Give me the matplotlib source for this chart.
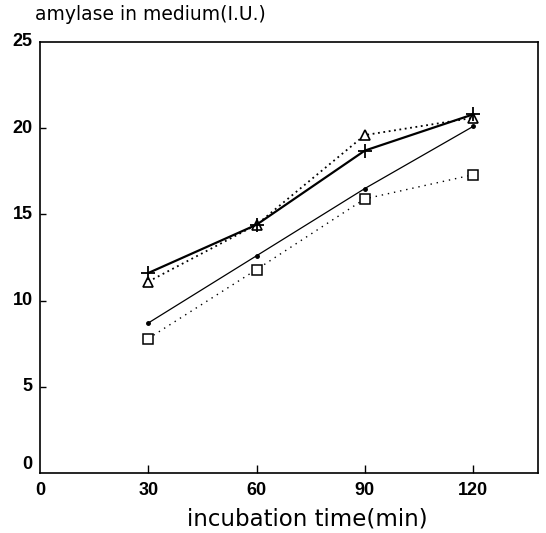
import matplotlib
matplotlib.use('Agg')
import matplotlib.pyplot as plt

# incubation times (min)
times = [30, 60, 90, 120]

# amylase in medium (I.U.) for each series
plus_vals = [11.6, 14.4, 18.7, 20.8]
tri_vals = [11.1, 14.4, 19.6, 20.6]
dot_vals = [8.7, 12.6, 16.5, 20.1]
sq_vals = [7.8, 11.8, 15.9, 17.3]

xticks = [0, 30, 60, 90, 120]
yticks = [0, 5, 10, 15, 20, 25]

plt.rcParams['font.family'] = ['Liberation Sans', 'DejaVu Sans']

fig = plt.figure(figsize=(5.46, 5.33), dpi=100)
ax = fig.add_axes([40 / 546, 1 - 473 / 533, 498 / 546, 431 / 533])

# lines
ax.plot(times, plus_vals, color='black', lw=1.6, ls='-', marker='+',
        ms=10, mew=1.3, zorder=4)
ax.plot(times, tri_vals, color='black', lw=1.3, ls=(0, (1, 2)), marker='^',
        ms=7.5, mfc='white', mec='black', mew=1.2, zorder=3)
ax.plot(times, dot_vals, color='black', lw=0.9, ls='-', marker='o',
        ms=2.5, zorder=3)
ax.plot(times, sq_vals, color='black', lw=1.0, ls=(0, (1, 3.5)), marker='s',
        ms=7, mfc='white', mec='black', mew=1.1, zorder=3)

ax.set_xlim(0, 138)
ax.set_ylim(0, 25)

for s in ax.spines.values():
    s.set_linewidth(1.2)

ax.set_xticks(xticks[1:])
ax.set_yticks(yticks[1:-1])
ax.tick_params(axis='x', direction='in', length=6, width=1, labelbottom=False)
ax.tick_params(axis='y', direction='in', length=4, width=1, labelleft=False)

# tick labels as text so they sit where the original puts them
for t in xticks:
    ax.text(t, -0.55, str(t), ha='center', va='top', fontsize=13,
            fontweight='bold', clip_on=False)
for v in yticks:
    yy = v + 0.5 if v == 0 else v
    ax.text(-2.0, yy, str(v), ha='right', va='center', fontsize=13,
            fontweight='bold', clip_on=False)

fig.text(35 / 546, 1 - 14 / 533, 'amylase in medium(I.U.)', ha='left',
         va='center', fontsize=13.5, family='DejaVu Sans')
fig.text(307 / 546, 1 - 519 / 533, 'incubation time(min)', ha='center',
         va='center', fontsize=16.5, family='DejaVu Sans')

fig.savefig('out.png', dpi=100)
